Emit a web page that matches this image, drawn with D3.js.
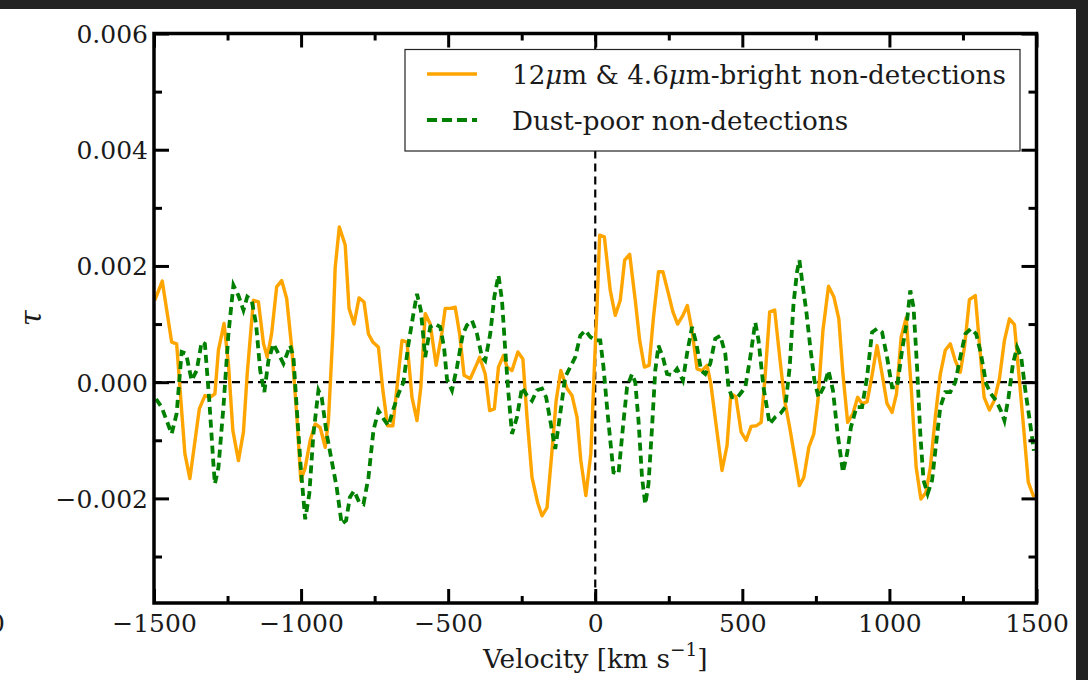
<!DOCTYPE html>
<html>
<head>
<meta charset="utf-8">
<script src="https://cdn.jsdelivr.net/npm/d3@7"></script>
<style>
  html, body { margin: 0; padding: 0; background: #fff; }
  svg { display: block; }
  svg text { font-family: "DejaVu Serif", serif; fill: #1a1a1a; }
</style>
</head>
<body>
<svg id="chart" width="1088" height="680"></svg>
<script>
// ---------- data (tau values in units of 1e-3) ----------
const xTicks = [-1500, -1000, -500, 0, 500, 1000, 1500];
const xMinorTicks = [-1250, -750, -250, 250, 750, 1250];
const yTicks = [-0.002, 0.000, 0.002, 0.004, 0.006];
const yMinorTicks = [-0.003, -0.001, 0.001, 0.003, 0.005];

const seriesNames = ["12\u03bcm & 4.6\u03bcm-bright non-detections", "Dust-poor non-detections"];

const brightVel = [-1497,-1472,-1440,-1423,-1395,-1378,-1346,-1327,-1310,-1293,-1281,-1262,-1247,-1232,-1213,-1196,-1183,-1162,-1145,-1128,-1115,-1100,-1083,-1066,-1049,-1032,-1015,-1001,-986,-969,-952,-935,-918,-907,-892,-884,-870,-850,-837,-820,-803,-786,-771,-756,-737,-722,-706,-688,-674,-657,-640,-623,-606,-593,-578,-561,-541,-521,-510,-493,-476,-461,-446,-425,-402,-393,-374,-359,-343,-329,-312,-300,-283,-263,-246,-232,-215,-196,-181,-164,-147,-133,-117,-96,-79,-62,-49,-32,-15,-3,6,15,31,51,68,85,100,117,136,151,167,183,198,215,230,249,264,280,298,313,329,346,363,380,393,412,431,448,461,478,496,513,530,548,564,578,593,610,627,644,661,678,694,709,726,743,757,774,793,811,828,842,858,876,892,907,924,941,958,975,992,1009,1024,1040,1057,1074,1091,1107,1124,1139,1156,1173,1190,1207,1224,1241,1255,1272,1292,1306,1322,1340,1356,1374,1391,1408,1425,1440,1457,1472,1491];
const brightTauE3 = [1.41,1.74,0.69,0.66,-1.23,-1.66,-0.46,-0.23,-0.26,-0.20,0.55,1.01,0.32,-0.83,-1.35,-0.86,0.15,1.41,1.38,0.67,0.43,0.84,1.64,1.75,1.44,0.60,-0.54,-1.69,-1.47,-1.00,-0.72,-0.78,-1.12,-0.66,0.84,1.98,2.67,2.36,1.27,1.00,1.45,1.38,0.83,0.69,0.60,-0.14,-0.75,-0.75,-0.09,0.72,0.69,-0.26,-0.66,-0.09,1.18,1.00,0.29,0.86,1.27,1.27,1.29,0.83,0.12,0.06,0.32,0.43,0.14,-0.49,-0.46,0.26,0.46,0.26,0.20,0.52,0.40,-0.60,-1.64,-2.07,-2.30,-2.16,-1.18,-0.32,0.20,-0.11,-0.23,-0.60,-1.35,-1.95,-1.23,0.26,1.29,2.53,2.50,1.58,1.15,1.41,2.10,2.20,1.41,0.72,0.26,0.29,1.12,1.90,1.90,1.52,1.21,1.00,1.15,1.32,0.89,0.23,0.20,0.29,-0.03,-0.78,-1.52,-1.09,-0.20,-0.25,-0.86,-1.00,-0.76,-0.75,-0.69,0.14,1.21,1.24,0.43,-0.32,-0.78,-1.29,-1.78,-1.64,-1.12,-0.89,-0.32,0.89,1.65,1.47,1.09,0.14,-0.69,-0.54,-0.26,-0.37,-0.34,0.12,0.63,0.14,-0.37,-0.52,-0.20,0.78,1.11,-0.09,-1.47,-2.01,-1.90,-1.47,-0.60,0.14,0.55,0.66,0.37,0.17,0.60,1.42,1.49,0.66,-0.26,-0.48,-0.32,0.06,0.72,1.09,0.99,0.14,-0.83,-1.72,-1.98];

const poorVel = [-1493,-1474,-1440,-1423,-1406,-1391,-1372,-1355,-1338,-1327,-1312,-1298,-1293,-1281,-1264,-1247,-1230,-1213,-1196,-1183,-1168,-1153,-1139,-1125,-1111,-1094,-1077,-1060,-1037,-1026,-1015,-1001,-986,-972,-958,-941,-930,-913,-896,-879,-862,-847,-834,-820,-802,-788,-771,-754,-737,-720,-703,-686,-669,-652,-635,-618,-606,-593,-578,-561,-544,-527,-514,-504,-487,-470,-450,-436,-419,-402,-385,-374,-357,-343,-329,-317,-306,-295,-283,-266,-249,-232,-215,-198,-181,-167,-153,-136,-119,-102,-85,-68,-51,-34,-17,0,17,28,40,51,62,79,94,108,125,136,147,159,170,181,193,204,215,230,244,261,278,298,312,329,344,360,374,391,408,425,442,453,465,482,510,527,544,555,572,593,612,629,646,661,674,686,694,703,717,731,745,759,776,793,808,824,842,856,869,888,907,924,941,958,975,992,1009,1026,1043,1060,1071,1082,1094,1105,1116,1130,1145,1160,1173,1190,1207,1224,1241,1258,1277,1295,1311,1329,1345,1363,1379,1391,1405,1420,1434,1448,1462,1477,1491];
const poorTauE3 = [-0.29,-0.43,-0.89,-0.54,0.52,0.49,0.03,0.20,0.69,0.66,-0.32,-1.41,-1.75,-1.47,-0.43,0.83,1.67,1.49,1.24,1.47,1.41,1.00,0.20,-0.17,0.37,0.66,0.49,0.32,0.63,0.43,-0.43,-1.47,-2.36,-1.92,-0.89,-0.14,-0.26,-0.89,-1.35,-1.81,-2.44,-2.38,-1.98,-1.87,-2.07,-2.10,-1.64,-0.83,-0.49,-0.63,-0.75,-0.46,-0.20,0.00,0.66,1.18,1.52,1.24,0.43,0.95,1.00,0.95,0.60,0.05,-0.14,0.26,0.83,0.98,1.06,0.83,0.43,0.37,0.83,1.47,1.84,1.41,0.55,-0.20,-0.89,-0.60,-0.09,-0.23,-0.32,-0.14,-0.11,-0.26,-0.66,-1.15,-0.54,0.09,0.26,0.43,0.80,0.89,0.78,0.72,0.72,0.26,-0.43,-1.00,-1.55,-1.58,-0.78,-0.09,0.14,0.00,-0.66,-1.64,-2.10,-1.75,-0.78,0.20,0.63,0.43,0.14,0.12,0.23,0.03,0.49,0.95,0.66,0.20,0.14,0.32,0.75,0.80,0.49,-0.09,-0.26,-0.27,-0.09,0.43,1.03,0.72,-0.09,-0.72,-0.60,-0.54,-0.43,0.26,1.35,1.90,2.10,1.75,1.24,0.60,0.03,-0.26,-0.09,0.20,-0.14,-0.89,-1.55,-1.23,-0.78,-0.43,-0.43,0.09,0.86,0.92,0.86,0.43,-0.09,-0.09,0.55,1.06,1.58,1.29,0.26,-0.89,-1.69,-1.92,-1.69,-1.00,-0.43,-0.17,-0.17,0.00,0.43,0.83,0.92,0.83,0.49,-0.03,-0.20,-0.32,-0.49,-0.66,-0.26,0.32,0.60,0.43,-0.14,-0.66,-1.18];

// ---------- build series ----------
const bright = brightVel.map((v, i) => ({ v, t: brightTauE3[i] * 1e-3 }));
const poor = poorVel.map((v, i) => ({ v, t: poorTauE3[i] * 1e-3 }));

// ---------- layout ----------
const FONT = "'DejaVu Serif', serif";
const TICK_FS = 25, LEG_FS = 26.2, TITLE_FS = 26.4;
const W = 1088, H = 680;
const L = 154, R = 1036.5, T = 33.5, B = 603;
const svg = d3.select("#chart");

const x = d3.scaleLinear().domain([-1500, 1500]).range([L, R]);
const y = d3.scaleLinear().domain([-0.0038, 0.006]).range([B, T]);

svg.append("rect").attr("x", 0).attr("y", 0).attr("width", W).attr("height", H).attr("fill", "#fff");

svg.append("clipPath").attr("id", "plotclip")
  .append("rect").attr("x", L).attr("y", T).attr("width", R - L).attr("height", B - T);

const plot = svg.append("g").attr("clip-path", "url(#plotclip)");

// zero lines
plot.append("line")
  .attr("x1", L).attr("x2", R).attr("y1", y(0)).attr("y2", y(0))
  .attr("stroke", "#000").attr("stroke-width", 2.2).attr("stroke-dasharray", "8,5");
plot.append("line")
  .attr("x1", x(0)).attr("x2", x(0)).attr("y1", T).attr("y2", B)
  .attr("stroke", "#000").attr("stroke-width", 2.2).attr("stroke-dasharray", "8,5");

const line = d3.line().x(d => x(d.v)).y(d => y(d.t)).curve(d3.curveLinear);

plot.append("path").datum(bright)
  .attr("d", line).attr("fill", "none")
  .attr("stroke", "#FFA500").attr("stroke-width", 3.4)
  .attr("stroke-linejoin", "round");

plot.append("path").datum(poor)
  .attr("d", line).attr("fill", "none")
  .attr("stroke", "#008000").attr("stroke-width", 3.8)
  .attr("stroke-dasharray", "8,5");

// ---------- axes ----------
const fmtX = d3.format("d");
const fmtY = d3.format(".3f");

function styleAxis(g) {
  g.attr("font-family", FONT);
  g.select(".domain").remove();
  g.selectAll(".tick line").attr("stroke", "#000").attr("stroke-width", 3);
  g.selectAll(".tick text").attr("font-size", TICK_FS).attr("fill", "#1a1a1a")
    .style("font-family", FONT);
}

svg.append("g").attr("transform", `translate(0,${B})`)
  .call(d3.axisBottom(x).tickValues(xTicks).tickFormat(fmtX).tickSizeInner(-14).tickSizeOuter(0).tickPadding(11.5))
  .call(styleAxis);
svg.append("g").attr("transform", `translate(0,${B})`)
  .call(d3.axisBottom(x).tickValues(xMinorTicks).tickFormat("").tickSizeInner(-7).tickSizeOuter(0))
  .call(styleAxis);
svg.append("g").attr("transform", `translate(0,${T})`)
  .call(d3.axisTop(x).tickValues(xTicks).tickFormat("").tickSizeInner(-14).tickSizeOuter(0))
  .call(styleAxis);
svg.append("g").attr("transform", `translate(0,${T})`)
  .call(d3.axisTop(x).tickValues(xMinorTicks).tickFormat("").tickSizeInner(-7).tickSizeOuter(0))
  .call(styleAxis);
const yAxisG = svg.append("g").attr("transform", `translate(${L},0)`)
  .call(d3.axisLeft(y).tickValues(yTicks).tickFormat(fmtY).tickSizeInner(-15).tickSizeOuter(0).tickPadding(6))
  .call(styleAxis);
yAxisG.selectAll(".tick text").attr("dy", "0.36em");
svg.append("g").attr("transform", `translate(${L},0)`)
  .call(d3.axisLeft(y).tickValues(yMinorTicks).tickFormat("").tickSizeInner(-8).tickSizeOuter(0))
  .call(styleAxis);
svg.append("g").attr("transform", `translate(${R},0)`)
  .call(d3.axisRight(y).tickValues(yTicks).tickFormat("").tickSizeInner(-15).tickSizeOuter(0))
  .call(styleAxis);
svg.append("g").attr("transform", `translate(${R},0)`)
  .call(d3.axisRight(y).tickValues(yMinorTicks).tickFormat("").tickSizeInner(-8).tickSizeOuter(0))
  .call(styleAxis);

svg.append("rect").attr("x", L).attr("y", T).attr("width", R - L).attr("height", B - T)
  .attr("fill", "none").attr("stroke", "#000").attr("stroke-width", 3.5);

// ---------- axis titles ----------
const xt = svg.append("text").attr("x", (L + R) / 2).attr("y", 668)
  .attr("text-anchor", "middle").attr("font-size", TITLE_FS).style("font-family", FONT);
xt.append("tspan").text("Velocity [km s");
xt.append("tspan").attr("font-size", 18.5).attr("dy", -12).text("\u22121");
xt.append("tspan").attr("dy", 12).text("]");

svg.append("text")
  .attr("transform", `translate(41,${(T + B) / 2}) rotate(-90)`)
  .attr("text-anchor", "middle").attr("font-size", 29).attr("font-style", "italic")
  .style("font-family", FONT)
  .text("\u03c4");

// ---------- legend ----------
const lg = svg.append("g");
lg.append("rect").attr("x", 405).attr("y", 49.5).attr("width", 615).attr("height", 101.5)
  .attr("fill", "#fff").attr("stroke", "#222").attr("stroke-width", 1.2);
lg.append("line").attr("x1", 427).attr("x2", 477).attr("y1", 74).attr("y2", 74)
  .attr("stroke", "#FFA500").attr("stroke-width", 3.4);
lg.append("line").attr("x1", 427).attr("x2", 477).attr("y1", 120).attr("y2", 120)
  .attr("stroke", "#008000").attr("stroke-width", 3.8).attr("stroke-dasharray", "10,5");

const t1 = lg.append("text").attr("x", 512).attr("y", 83.5).attr("font-size", LEG_FS).style("font-family", FONT);
t1.append("tspan").text("12");
t1.append("tspan").attr("font-style", "italic").text("\u03bc");
t1.append("tspan").text("m & 4.6");
t1.append("tspan").attr("font-style", "italic").text("\u03bc");
t1.append("tspan").text("m-bright non-detections");
lg.append("text").attr("x", 512).attr("y", 129.5).attr("font-size", LEG_FS).style("font-family", FONT).text(seriesNames[1]);

// ---------- surrounding dark frame ----------
svg.append("rect").attr("x", 0).attr("y", 0).attr("width", W).attr("height", 9).attr("fill", "#222");
svg.append("rect").attr("x", 1076).attr("y", 0).attr("width", 12).attr("height", H).attr("fill", "#222");

svg.append("text").attr("x", 5).attr("y", 632).attr("text-anchor", "end").attr("font-size", TICK_FS)
  .style("font-family", FONT).text("0");
</script>
</body>
</html>
